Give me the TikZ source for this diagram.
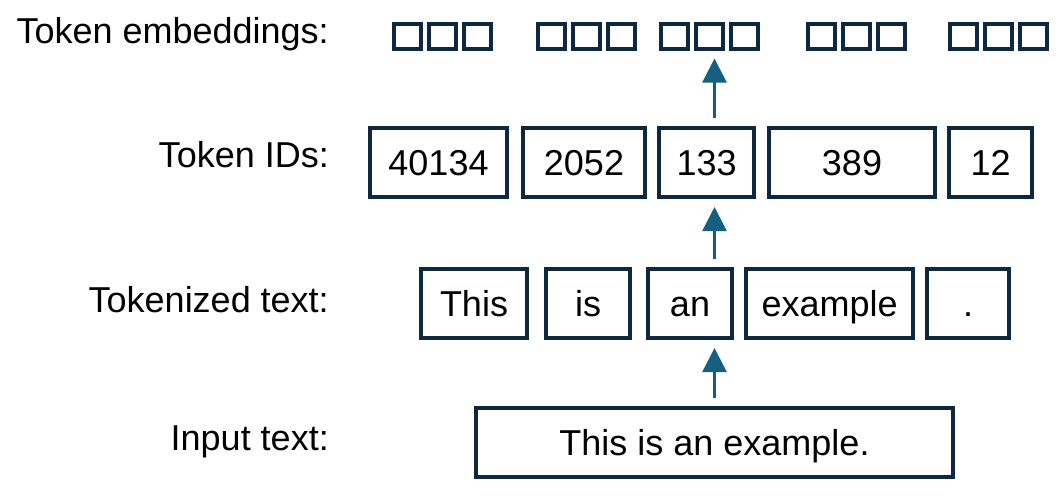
\documentclass[tikz,border=0pt]{standalone}
\usepackage{fontspec}
\setmainfont{Liberation Sans}
\usetikzlibrary{arrows.meta}

\definecolor{boxnavy}{HTML}{0E2841}
\definecolor{arrowblue}{HTML}{156082}

\begin{document}
\begin{tikzpicture}[x = 1pt, y = -1pt,
	font = \fontsize{36}{43}\selectfont,
	tok/.style = {draw = boxnavy, line width = 4pt, inner sep = 0pt, minimum height = 69pt, text height = 25.5pt, text depth = 0pt},
	emb/.style = {draw = boxnavy, line width = 4pt, inner sep = 0pt, minimum width = 27pt, minimum height = 25pt},
	rowlabel/.style = {anchor = base east, inner sep = 0pt},
	flow/.style = {draw = arrowblue, line width = 2.5pt, -{Triangle[width = 24pt, length = 24pt]}, shorten <= 8pt, shorten >= 8pt}]

	\useasboundingbox (0, 0) rectangle (1064, 496);

	% Row labels

	\node [rowlabel] (lemb) at (329, 43) {Token embeddings:};
	\node [rowlabel] (lids) at (329, 167) {Token IDs:};
	\node [rowlabel] (ltok) at (329, 312) {Tokenized text:};
	\node [rowlabel] (linp) at (329, 450) {Input text:};

	% Token embeddings

	\foreach \gx [count = \i] in {442.5, 586.5, 709.5, 856.5, 998.5}
		\foreach \k in {1, 2, 3}
			\node [emb] (e\i\k) at ({\gx + 35 * (\k - 2)}, 36) {};

	% Token IDs

	\node [tok, minimum width = 137pt] (id40134) at (438.5, 162.5) {40134};
	\node [tok, minimum width = 122.6pt] (id2052) at (584, 162.5) {2052};
	\node [tok, minimum width = 94.7pt] (id133) at (706.7, 162.5) {133};
	\node [tok, minimum width = 166.6pt] (id389) at (852, 162.5) {389};
	\node [tok, minimum width = 82.7pt] (id12) at (990.7, 162.5) {12};

	% Tokenized text

	\node [tok, minimum width = 106pt] (this) at (474, 303.5) {This};
	\node [tok, minimum width = 83.5pt] (is) at (588, 303.5) {is};
	\node [tok, minimum width = 84pt] (an) at (690, 303.5) {an};
	\node [tok, minimum width = 167.5pt] (example) at (829.7, 303.5) {example};
	\node [tok, minimum width = 82.5pt] (dot) at (968, 303.5) {.};

	% Input text

	\node [tok, minimum width = 477pt] (inp) at (714.5, 442.5) {This is an example.};

	% Arrows

	\draw [flow] (inp.north) -- (inp.north |- an.south);
	\draw [flow] (inp.north |- an.north) -- (inp.north |- id133.south);
	\draw [flow] (inp.north |- id133.north) -- (inp.north |- e32.south);

\end{tikzpicture}
\end{document}
